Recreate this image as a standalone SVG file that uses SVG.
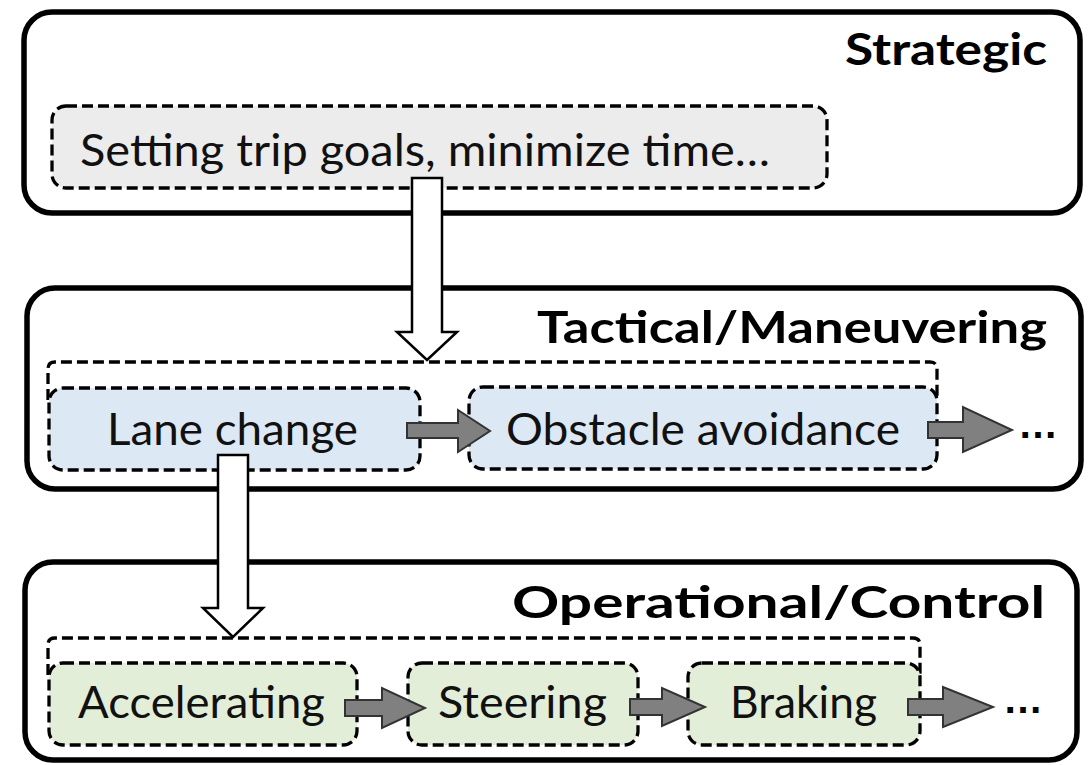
<svg xmlns="http://www.w3.org/2000/svg" width="1089" height="765" viewBox="0 0 1089 765">
<style>
.layer{fill:#fff;stroke:#000;stroke-width:5.5}
.frame{fill:none;stroke:#000;stroke-width:3.3;stroke-dasharray:11 5}
.node{stroke:#000;stroke-width:3.3;stroke-dasharray:11 5}
.gray{fill:#ececec}
.blue{fill:#dde8f5}
.green{fill:#e3eed9}
.title{font-family:Lato,"Liberation Sans",sans-serif;font-weight:bold;font-size:44px;fill:#000;text-anchor:end}
.lbl{font-family:Lato,"Liberation Sans",sans-serif;font-size:44px;fill:#111}
.dots{font-family:"Liberation Sans",sans-serif;font-weight:bold;font-size:40px;fill:#000}
.big{fill:#fff;stroke:#000;stroke-width:2.5}
.small{fill:#808080;stroke:#333;stroke-width:2}
</style>
<rect width="1089" height="765" fill="#fff"/>
<g id="strategic">
<rect class="layer" x="24" y="12" width="1056" height="201" rx="28"/>
<text class="title" x="1047" y="65" textLength="202" lengthAdjust="spacingAndGlyphs">Strategic</text>
</g>
<g id="tactical">
<rect class="layer" x="27" y="288" width="1054" height="201" rx="28"/>
<text class="title" x="1047" y="343" textLength="510" lengthAdjust="spacingAndGlyphs">Tactical/Maneuvering</text>
<path class="frame" d="M48,400 V369 Q48,362 55,362 H930 Q937,362 937,369 V400"/>
</g>
<g id="operational">
<rect class="layer" x="25" y="562" width="1052" height="198" rx="28"/>
<text class="title" x="1045" y="618" textLength="533" lengthAdjust="spacingAndGlyphs">Operational/Control</text>
<path class="frame" d="M48,675 V645 Q48,638 55,638 H913 Q920,638 920,645 V675"/>
</g>
<g id="node-trip">
<rect class="node gray" x="52" y="106" width="775" height="82" rx="14"/>
<text class="lbl" x="80" y="166" textLength="690" lengthAdjust="spacingAndGlyphs">Setting trip goals, minimize time…</text>
</g>
<g id="node-lane">
<rect class="node blue" x="49" y="388" width="371" height="82" rx="14"/>
<text class="lbl" x="107" y="445" textLength="251" lengthAdjust="spacingAndGlyphs">Lane change</text>
</g>
<g id="node-obstacle">
<rect class="node blue" x="469" y="387" width="468" height="82" rx="14"/>
<text class="lbl" x="506" y="445" textLength="394" lengthAdjust="spacingAndGlyphs">Obstacle avoidance</text>
</g>
<g id="node-accel">
<rect class="node green" x="49" y="663" width="308" height="82" rx="14"/>
<text class="lbl" x="78" y="718" textLength="247" lengthAdjust="spacingAndGlyphs">Accelerating</text>
</g>
<g id="node-steer">
<rect class="node green" x="408" y="663" width="230" height="82" rx="14"/>
<text class="lbl" x="438" y="718" textLength="169" lengthAdjust="spacingAndGlyphs">Steering</text>
</g>
<g id="node-brake">
<rect class="node green" x="688" y="663" width="232" height="82" rx="14"/>
<text class="lbl" x="730" y="718" textLength="147" lengthAdjust="spacingAndGlyphs">Braking</text>
</g>
<g id="connectors">
<polygon class="big" points="412,178 442,178 442,332 457,332 427,360 397,332 412,332"/>
<polygon class="big" points="218,455 248,455 248,608 263,608 233,637 203,608 218,608"/>
<polygon class="small" points="407,423 458,423 458,410 490,431 458,452 458,438 407,438"/>
<polygon class="small" points="928,422 963,422 963,407 1012,430 963,452 963,438 928,438"/>
<polygon class="small" points="345,700 382,700 382,688 425,708 382,728 382,716 345,716"/>
<polygon class="small" points="630,699 662,699 662,688 705,707 662,726 662,715 630,715"/>
<polygon class="small" points="908,699 943,699 943,687 993,707 943,727 943,715 908,715"/>
</g>
<g id="ellipses">
<text class="dots" x="1018" y="438">…</text>
<text class="dots" x="1003" y="713">…</text>
</g>
</svg>
